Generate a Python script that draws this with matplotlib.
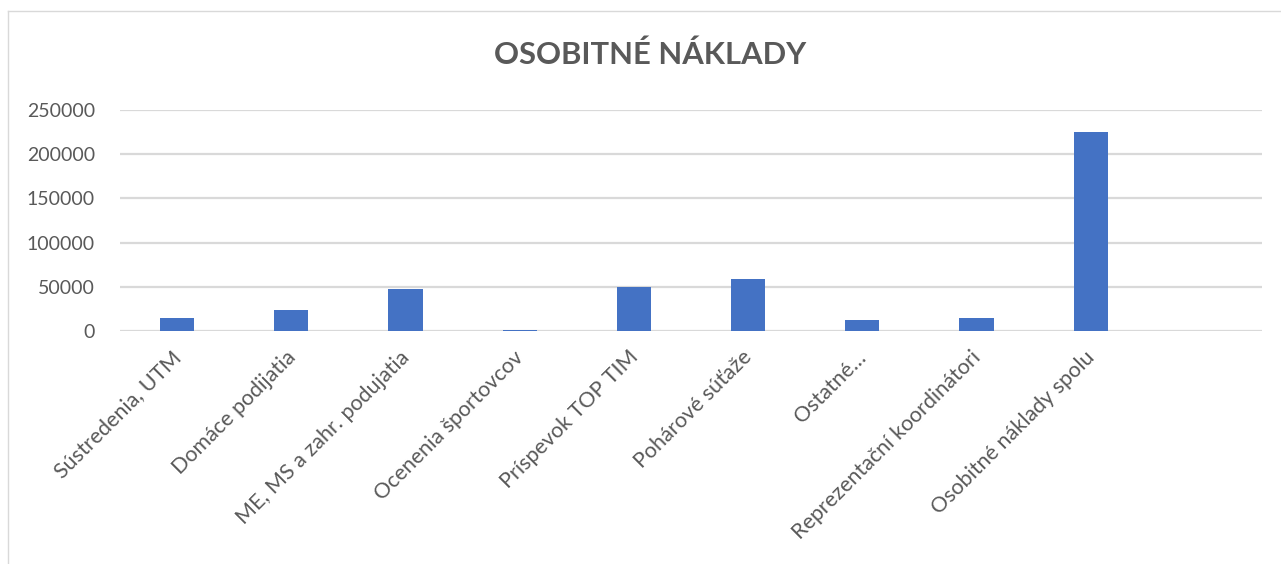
import matplotlib
matplotlib.use("Agg")
import matplotlib.pyplot as plt
from matplotlib.lines import Line2D
from matplotlib.transforms import ScaledTranslation

categories = ["Sústredenia, UTM", "Domáce podijatia", "ME, MS a zahr. podujatia",
              "Ocenenia športovcov", "Príspevok TOP TIM", "Pohárové súťaže",
              "Ostatné…", "Reprezentační koordinátori", "Osobitné náklady spolu", ""]
values = [14700, 23450, 47240, 800, 49840, 59350, 12100, 15180, 224700, 0]
yticks = [0, 50000, 100000, 150000, 200000, 250000]
title = "OSOBITNÉ NÁKLADY"

plt.rcParams['font.family'] = ['Lato', 'DejaVu Sans']
txt = '#595959'

fig = plt.figure(figsize=(12.81, 5.64), dpi=100)
ax = fig.add_axes([120/1281, 1-331/564, (1262-120)/1281, (331-110)/564])

x = list(range(len(categories)))
ax.bar(x[:9], values[:9], width=0.3, color='#4472C4', zorder=3)
ax.set_xlim(-0.5, len(categories)-0.5)
ax.set_ylim(0, 250000)
ax.set_yticks(yticks)
ax.set_yticklabels([str(v) for v in yticks], fontsize=14, color=txt)
ax.grid(axis='y', color='#d9d9d9', linewidth=1.6, zorder=0)
ax.tick_params(axis='both', length=0)
ax.tick_params(axis='y', pad=18)
for s in ax.spines.values():
    s.set_visible(False)
ax.set_xticks(x)
ax.set_xticklabels(categories, rotation=45, ha='right', va='top',
                   rotation_mode='anchor', fontsize=15.5, color=txt)
ax.tick_params(axis='x', pad=11.5)
off = ScaledTranslation(-6/100, 0, fig.dpi_scale_trans)
for lab in ax.get_xticklabels():
    lab.set_transform(lab.get_transform() + off)

fig.text(650/1281, 1-55/564, title, ha='center', va='center', fontsize=22.3,
         fontweight='bold', color=txt)

# chart border (left and top visible)
fig.add_artist(Line2D([8/1281, 8/1281], [0, 1-11/564], color='#d9d9d9', lw=1,
                      transform=fig.transFigure))
fig.add_artist(Line2D([8/1281, 1], [1-11/564, 1-11/564], color='#d9d9d9', lw=1,
                      transform=fig.transFigure))

fig.savefig('out.png', dpi=100)
